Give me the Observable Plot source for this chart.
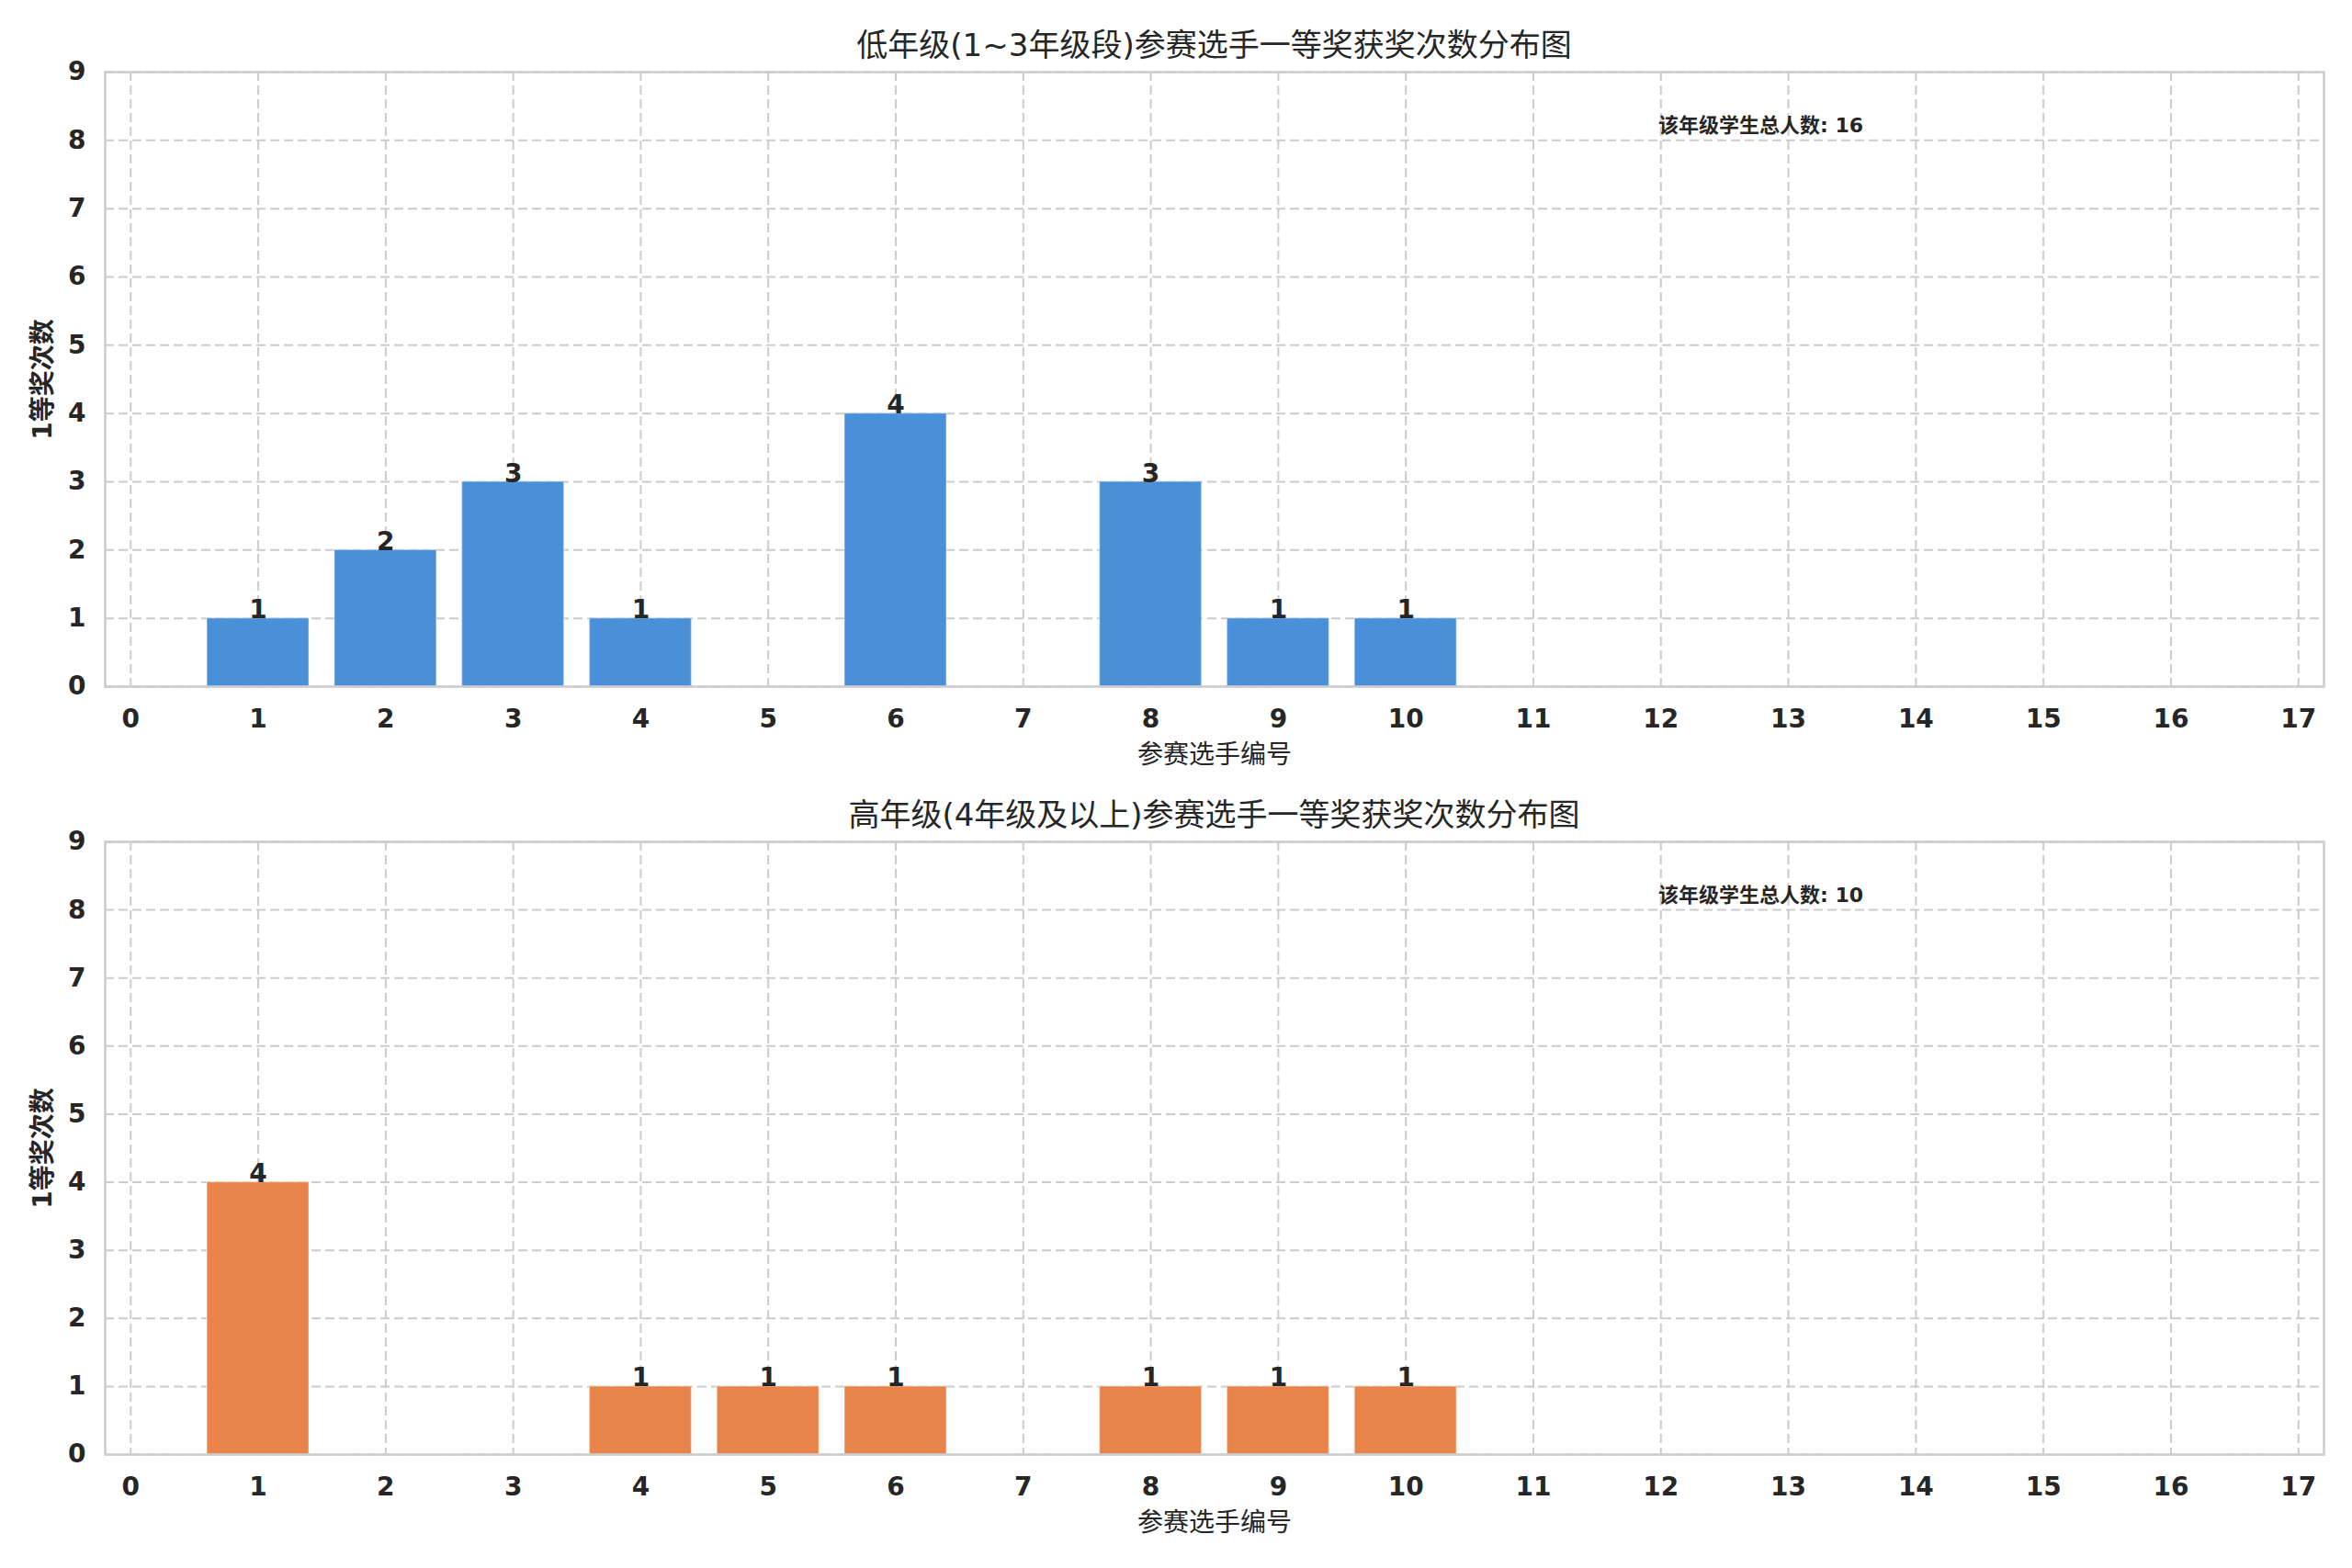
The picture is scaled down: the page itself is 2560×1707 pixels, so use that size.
<!DOCTYPE html>
<html>
<head>
<meta charset="utf-8">
<script src="https://cdn.jsdelivr.net/npm/d3@7"></script>
<script src="https://cdn.jsdelivr.net/npm/@observablehq/plot@0.6"></script>
<style>
  html, body { margin: 0; padding: 0; background: #fff; }
  body { width: 2560px; height: 1707px; overflow: hidden; font-family: "DejaVu Sans", "Noto Sans CJK SC", sans-serif; color: #262626; }
  .title { box-sizing: border-box; margin-left: 114px; width: 2415px; text-align: center; font-size: 34px; line-height: 34px; white-space: nowrap; position: relative; z-index: 2; }
  svg { display: block; }
</style>
</head>
<body>
<div id="t1" class="title" style="height:56px;padding-top:32px;"></div>
<div id="c1"></div>
<div id="t2" class="title" style="height:44px;padding-top:20px;"></div>
<div id="c2"></div>
<script>
// ---- data ----
const titles = ["低年级(1~3年级段)参赛选手一等奖获奖次数分布图", "高年级(4年级及以上)参赛选手一等奖获奖次数分布图"];
const xLabel = "参赛选手编号";
const yLabel = "1等奖次数";
const annotationLabel = "该年级学生总人数";
const groupAX = [1, 2, 3, 4, 6, 8, 9, 10];
const groupAY = [1, 2, 3, 1, 4, 3, 1, 1];
const groupBX = [1, 4, 5, 6, 8, 9, 10];
const groupBY = [4, 1, 1, 1, 1, 1, 1];
const xTicks = d3.range(0, 18);
const yTicks = d3.range(0, 10);
const colors = ["#4A90D9", "#E8844A"];

const W = 2560, mL = 114, mR = 31;
const plotW = W - mL - mR;

function makeChart(xs, ys, color, height, mTop, mBottom) {
  const data = xs.map((x, i) => ({x, y: ys[i]}));
  const plotH = height - mTop - mBottom;
  const total = d3.sum(ys);
  return Plot.plot({
    width: W,
    height,
    marginLeft: mL,
    marginRight: mR,
    marginTop: mTop,
    marginBottom: mBottom,
    style: {fontFamily: "'DejaVu Sans', 'Noto Sans CJK SC', sans-serif", fontSize: "28px", color: "#262626", background: "transparent"},
    x: {type: "linear", domain: [-0.2, 17.2]},
    y: {type: "linear", domain: [0, 9]},
    marks: [
      Plot.gridX(xTicks, {stroke: "#cccccc", strokeOpacity: 1, strokeWidth: 2, strokeDasharray: "10,5"}),
      Plot.gridY(yTicks, {stroke: "#cccccc", strokeOpacity: 1, strokeWidth: 2, strokeDasharray: "10,5"}),
      Plot.rectY(data, {x1: d => d.x - 0.4, x2: d => d.x + 0.4, y1: 0, y2: "y", fill: color, stroke: "#ffffff", strokeOpacity: 0.35, strokeWidth: 1.5}),
      Plot.text(data, {x: "x", y: "y", text: d => String(d.y), lineAnchor: "bottom", dy: 0, fontWeight: "bold", fontSize: 28, fill: "#262626"}),
      Plot.frame({stroke: "#cccccc", strokeWidth: 2.5}),
      Plot.axisX(xTicks, {anchor: "bottom", tickSize: 0, tickPadding: 25, fontWeight: "bold", fontSize: 28, label: null, tickFormat: d => String(d)}),
      Plot.axisY(yTicks, {anchor: "left", tickSize: 0, tickPadding: 21, fontWeight: "bold", fontSize: 28, label: null, tickFormat: d => String(d)}),
      Plot.text([xLabel], {frameAnchor: "bottom", dy: 75, textAnchor: "middle", lineAnchor: "middle", fontSize: 28, fill: "#262626"}),
      Plot.text([yLabel], {frameAnchor: "left", dx: -67, rotate: -90, textAnchor: "middle", lineAnchor: "middle", fontSize: 28, fontWeight: "bold", fill: "#262626"}),
      Plot.text([`${annotationLabel}: ${total}`], {frameAnchor: "top-left", dx: 0.7 * plotW, dy: 0.1 * plotH - 8, textAnchor: "start", lineAnchor: "middle", fontSize: 22, fontWeight: "bold", fill: "#262626"})
    ]
  });
}

document.getElementById("t1").textContent = titles[0];
document.getElementById("t2").textContent = titles[1];
document.getElementById("c1").append(makeChart(groupAX, groupAY, colors[0], 794, 22, 103));
document.getElementById("c2").append(makeChart(groupBX, groupBY, colors[1], 813, 22, 124));
</script>
</body>
</html>
